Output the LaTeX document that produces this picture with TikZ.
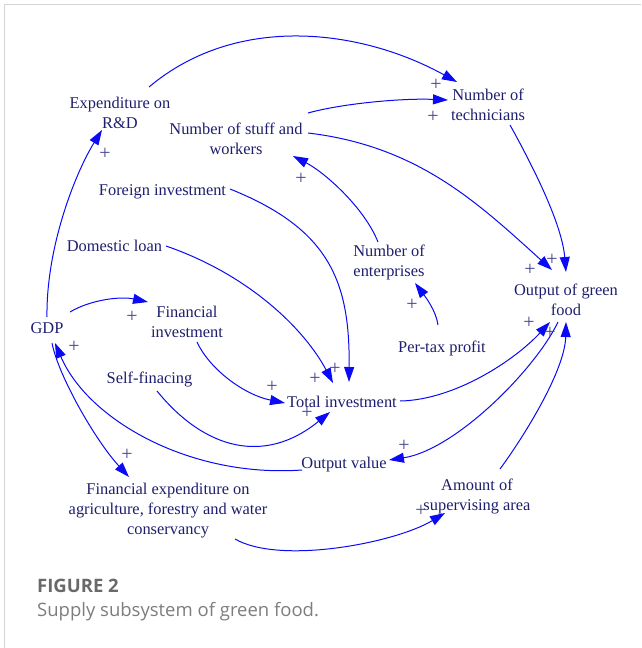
\documentclass[tikz,border=0pt]{standalone}
\usepackage{fontspec}
\setmainfont{Liberation Serif}
\newfontfamily\capfont{Open Sans}
\usetikzlibrary{arrows.meta,calc}
\definecolor{txt}{RGB}{30,30,110}
\definecolor{arrblue}{RGB}{10,10,245}
\definecolor{plusc}{RGB}{70,70,140}
\definecolor{framec}{RGB}{212,212,212}
\definecolor{capgray}{RGB}{105,105,105}
\definecolor{capgray2}{RGB}{125,125,125}
\begin{document}
\begin{tikzpicture}[x=1pt,y=-1pt,
  varnode/.style={text=txt,font=\fontsize{16.4}{20}\selectfont,align=center,inner sep=0pt,yshift=-1.5pt},
  arr/.style={draw=arrblue,line width=1pt,-{Triangle[length=15pt,width=10pt]}},
  polsign/.style={text=plusc,font=\fontsize{20}{20}\selectfont,inner sep=0pt},
  captext/.style={anchor=base west,inner sep=0pt,font=\capfont\fontsize{18.5}{20}\selectfont}]
\useasboundingbox (0,0) rectangle (641,648);
\draw[framec,line width=1.5pt] (4.5,648) -- (4.5,4.5) -- (641,4.5);
% variables
\node[varnode] (exp) at (120,111) {Expenditure on\\R\&D};
\node[varnode] (stuff) at (236,137) {Number of stuff and\\workers};
\node[varnode] (foreign) at (162.5,190) {Foreign investment};
\node[varnode] (dom) at (114.5,244) {Domestic loan};
\node[varnode] (tech) at (488,103) {Number of\\technicians};
\node[varnode] (ent) at (389,261) {Number of\\enterprises};
\node[varnode] (out) at (566,298) {Output of green\\food};
\node[varnode] (tax) at (442,347) {Per-tax profit};
\node[varnode] (gdp) at (47,327) {GDP};
\node[varnode] (fin) at (187,320) {Financial\\investment};
\node[varnode] (self) at (149.5,378) {Self-finacing};
\node[varnode] (total) at (342,400) {Total investment};
\node[varnode] (oval) at (344,463) {Output value};
\node[varnode] (amt) at (477,495) {Amount of\\supervising area};
\node[varnode] (fexp) at (168,509) {Financial expenditure on\\agriculture, forestry and water\\conservancy};
% connectors
\draw[arr] ($(exp)+(29,-25.5)$) .. controls (237,13) and (361,29) .. ($(tech)+(-31,-22.5)$);
\draw[arr] ($(stuff)+(72,-25.5)$) .. controls (340,104) and (400,98) .. ($(tech)+(-40,-4.5)$);
\draw[arr] ($(stuff)+(72,-5.5)$) .. controls (418,146) and (478,203) .. ($(out)+(-14,-29.5)$);
\draw[arr] ($(tech)+(22,20.5)$) .. controls (535,170) and (562,225) .. ($(out)+(0,-27.5)$);
\draw[arr] ($(ent)+(-11,-20.5)$) .. controls (364,207) and (324,172) .. ($(stuff)+(57,17.5)$);
\draw[arr] ($(tax)+(-4,-23.5)$) .. controls (436,310) and (424,295) .. ($(ent)+(26,20.5)$);
\draw[arr] ($(foreign)+(67.5,-2.5)$) .. controls (330,229) and (350,282) .. ($(total)+(7,-19.5)$);
\draw[arr] ($(dom)+(51.5,0.5)$) .. controls (250,275) and (305,330) .. ($(total)+(-9,-18.5)$);
\draw[arr] ($(fin)+(10,20.5)$) .. controls (210,370) and (245,395) .. ($(total)+(-57,1.5)$);
\draw[arr] ($(self)+(7.5,11.5)$) .. controls (205,450) and (265,465) .. ($(total)+(-12,10.5)$);
\draw[arr] ($(gdp)+(0,-11.5)$) .. controls (46,247) and (75.5,172.5) .. ($(exp)+(-18,17.5)$);
\draw[arr] ($(gdp)+(23,-16.5)$) .. controls (90,300) and (120,296) .. ($(fin)+(-39,-19.5)$);
\draw[arr] ($(oval)+(-42,5.5)$) .. controls (190,478) and (88,420) .. ($(gdp)+(8,14.5)$);
\draw[arr] ($(gdp)+(5,14.5)$) .. controls (58,375) and (95,440) .. ($(fexp)+(-39,-33.5)$);
\draw[arr] ($(total)+(58,-0.5)$) .. controls (455,400) and (515,360) .. ($(out)+(-16,22.5)$);
\draw[arr] ($(out)+(-8,22.5)$) .. controls (535,370) and (455,450) .. ($(oval)+(45,-4.5)$);
\draw[arr] ($(amt)+(23,-27.5)$) .. controls (525,435) and (565,370) .. ($(out)+(0,22.5)$);
\draw[arr] ($(fexp)+(67,28.5)$) .. controls (280,565) and (395,543) .. ($(amt)+(-32,16.5)$);
% polarity signs
\node[polsign] (p1) at (436,85) {+};
\node[polsign] (p2) at (433,117) {+};
\node[polsign] (p3) at (552,260) {+};
\node[polsign] (p4) at (530,270) {+};
\node[polsign] (p5) at (301,179) {+};
\node[polsign] (p6) at (412,305) {+};
\node[polsign] (p7) at (335,369) {+};
\node[polsign] (p8) at (315,379) {+};
\node[polsign] (p9) at (272,387) {+};
\node[polsign] (p10) at (307,413) {+};
\node[polsign] (p11) at (105,154) {+};
\node[polsign] (p12) at (132,317) {+};
\node[polsign] (p13) at (74,347) {+};
\node[polsign] (p14) at (127,455) {+};
\node[polsign] (p15) at (529,323) {+};
\node[polsign] (p16) at (404,446) {+};
\node[polsign] (p17) at (550,333) {+};
\node[polsign] (p18) at (421,511) {+};
% caption
\node[captext,text=capgray] (figlab) at (37,592) {\bfseries FIGURE 2};
\node[captext,text=capgray2] (figcap) at (37,616) {Supply subsystem of green food.};
\end{tikzpicture}
\end{document}
